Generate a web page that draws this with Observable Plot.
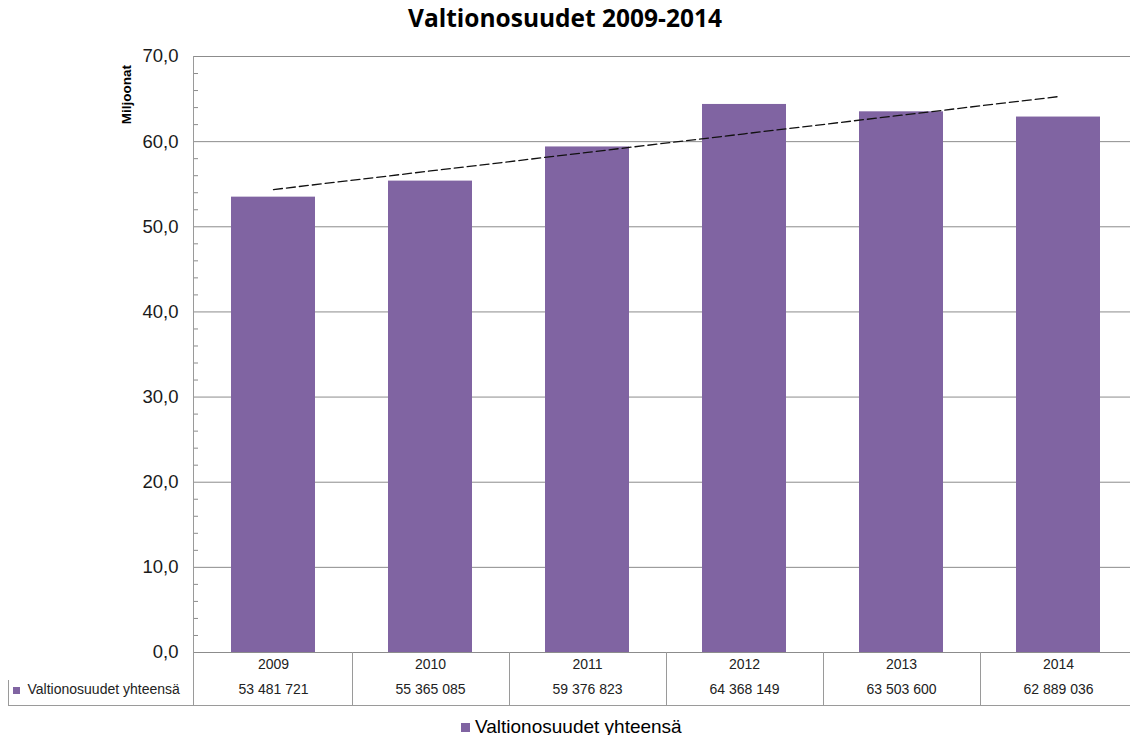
<!DOCTYPE html>
<html>
<head>
<meta charset="utf-8">
<script src="https://cdn.jsdelivr.net/npm/d3@7"></script>
<script src="https://cdn.jsdelivr.net/npm/@observablehq/plot@0.6"></script>
<style>
  html, body { margin: 0; padding: 0; background: #fff; overflow: hidden; width: 1130px; height: 735px; }
  #title { position: absolute; left: 0; top: 2px; width: 1130px; text-align: center; font-family: "Open Sans", "Liberation Sans", sans-serif; font-weight: bold; font-size: 24.5px; color: #000; line-height: 32px; }
  #chart { position: absolute; left: 0; top: 40px; }
  #legend { position: absolute; left: 461px; top: 716px; font-family: "Liberation Sans", Arial, sans-serif; font-size: 19px; line-height: 22px; color: #000; white-space: nowrap; }
  #legend .sw { display: inline-block; width: 9px; height: 9px; background: #8064A2; margin-right: 5px; vertical-align: 1px; }
</style>
</head>
<body>
<div id="title">Valtionosuudet 2009-2014</div>
<div id="chart"></div>
<div id="legend"><span class="sw"></span>Valtionosuudet yhteensä</div>
<script>
const years = ["2009", "2010", "2011", "2012", "2013", "2014"];
const values = [53481721, 55365085, 59376823, 64368149, 63503600, 62889036];
const seriesName = "Valtionosuudet yhteensä";
const yTicks = [0, 10, 20, 30, 40, 50, 60, 70];
const yMinorTicks = [2, 4, 6, 8, 12, 14, 16, 18, 22, 24, 26, 28, 32, 34, 36, 38, 42, 44, 46, 48, 52, 54, 56, 58, 62, 64, 66, 68];

const purple = "#8064A2";
const data = years.map((y, i) => ({year: y, value: values[i], mil: values[i] / 1e6}));

// linear trend (least squares) computed from the data
const n = data.length;
const mx = d3.mean(d3.range(n));
const my = d3.mean(data, d => d.mil);
const slope = d3.sum(data, (d, i) => (i - mx) * (d.mil - my)) / d3.sum(d3.range(n), i => (i - mx) ** 2);
const trend = data.map((d, i) => ({year: d.year, t: my + slope * (i - mx)}));

const fmtNum = v => String(v).replace(/\B(?=(\d{3})+(?!\d))/g, " ");
const fmtY = d => d.toFixed(1).replace(".", ",");

const chart = Plot.plot({
  width: 1130,
  height: 678,
  marginTop: 16,
  marginBottom: 66,
  marginLeft: 193,
  marginRight: 0,
  style: {fontFamily: "Liberation Sans, Arial, sans-serif", overflow: "visible"},
  x: {domain: years, range: [193, 1137], paddingInner: 0.466, paddingOuter: 0.233, axis: null},
  y: {domain: [0, 70], axis: null},
  marks: [
    Plot.gridY(yTicks, {stroke: "#8c8c8c", strokeOpacity: 1, strokeWidth: 1}),
    Plot.axisY(yMinorTicks, {tickSize: -5, tickFormat: () => "", stroke: "#8c8c8c"}),
    Plot.axisY(yTicks, {tickSize: 0, tickPadding: 15, tickFormat: fmtY, fontSize: 18.5, fill: "#1a1a1a"}),
    Plot.barY(data, {x: "year", y: "mil", fill: purple}),
    Plot.lineY(trend, {x: "year", y: "t", stroke: "#111", strokeWidth: 1.3, strokeDasharray: "9,4"}),
    Plot.text(["Miljoonat"], {frameAnchor: "top-left", dx: -67, dy: 38, rotate: -90, textAnchor: "middle", lineAnchor: "middle", fontWeight: "bold", fontSize: 13.5}),
    Plot.text(data, {x: "year", text: "year", frameAnchor: "bottom", dy: 16, fontSize: 14, fill: "#222"}),
    Plot.text(data, {x: "year", text: d => fmtNum(d.value), frameAnchor: "bottom", dy: 41, fontSize: 14, fill: "#222"}),
    Plot.text([seriesName], {frameAnchor: "bottom-left", dx: -166, dy: 41, textAnchor: "start", fontSize: 14, fill: "#222"})
  ]
});

// table grid drawn from the x scale
const svg = d3.select(chart);
const xs = chart.scale("x");
const step = xs.step;
const y0 = 612;
const g = svg.append("g").attr("stroke", "#9a9a9a").attr("stroke-width", 1);
g.append("line").attr("x1", 193.5).attr("x2", 193.5).attr("y1", 16).attr("y2", y0 + 53);
years.forEach((yr, i) => {
  const xb = xs.apply(yr) - (step - xs.bandwidth) / 2;
  if (i > 0) g.append("line").attr("x1", Math.round(xb) + 0.5).attr("x2", Math.round(xb) + 0.5).attr("y1", y0).attr("y2", y0 + 53);
});
g.append("line").attr("x1", 8).attr("x2", 1130).attr("y1", y0 + 53.5).attr("y2", y0 + 53.5);
g.append("line").attr("x1", 8.5).attr("x2", 8.5).attr("y1", y0 + 28).attr("y2", y0 + 53);
svg.append("rect").attr("x", 13).attr("y", y0 + 35).attr("width", 7).attr("height", 7).attr("fill", purple);

document.getElementById("chart").appendChild(chart);
</script>
</body>
</html>
